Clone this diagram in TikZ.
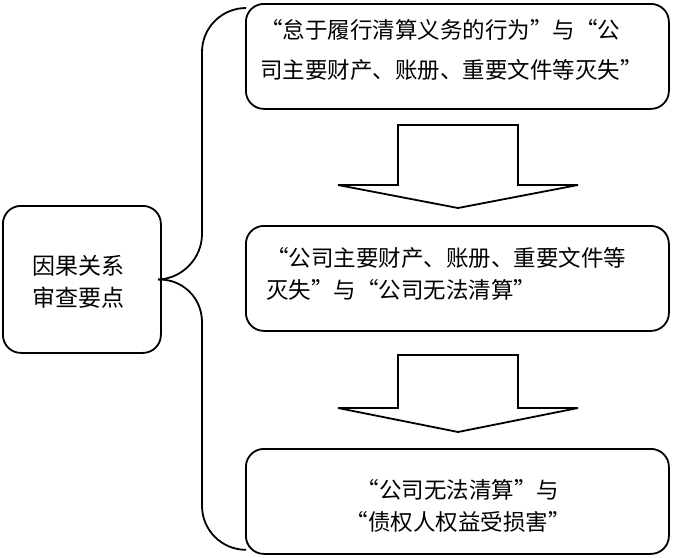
\documentclass[tikz,border=0pt]{standalone}
\usepackage{fontspec}
\setmainfont{Noto Sans CJK SC}
\begin{document}
\begin{tikzpicture}[x=1pt,y=-1pt,line width=1.8pt,
  pointbox/.style={draw,rounded corners=18pt,inner sep=0pt,anchor=north west},
  downarrow/.style={draw,line join=miter}]
\useasboundingbox (0,0) rectangle (677,557);
% left box
\node[pointbox,minimum width=158pt,minimum height=147pt] (main) at (2,205) {};
\node[font=\fontsize{23}{32}\selectfont,align=center] at (78,282) {因果关系\\审查要点};
% right boxes
\node[pointbox,minimum width=423pt,minimum height=105pt] (first) at (245,3) {};
\node[pointbox,minimum width=423pt,minimum height=105pt] (second) at (245,225) {};
\node[pointbox,minimum width=423pt,minimum height=105pt] (third) at (245,448) {};
\node[anchor=west,font=\fontsize{22.5}{40}\selectfont,align=left] at (256,50)
  {“怠于履行清算义务的行为”与“公\\司主要财产、账册、重要文件等灭失”};
\node[anchor=west,font=\fontsize{22.5}{32}\selectfont,align=left] at (262,274)
  {“公司主要财产、账册、重要文件等\\灭失”与“公司无法清算”};
\node[font=\fontsize{22.5}{32}\selectfont,align=center] at (458,506)
  {“公司无法清算”与\\“债权人权益受损害”};
% brace
\draw[rounded corners=44pt] (first.north west) ++(0,5) -| (202,278) -- (main.east);
\draw[rounded corners=44pt] (third.south west) ++(0,-5) -| (202,278) -- (main.east);
% block arrows
\draw[downarrow] (398,125) -- (518,125) -- (518,185) -- (578,185) -- (458,208)
  -- (338,185) -- (398,185) -- cycle;
\draw[downarrow] (398,355) -- (518,355) -- (518,408) -- (578,408) -- (458,432)
  -- (338,408) -- (398,408) -- cycle;
\end{tikzpicture}
\end{document}
